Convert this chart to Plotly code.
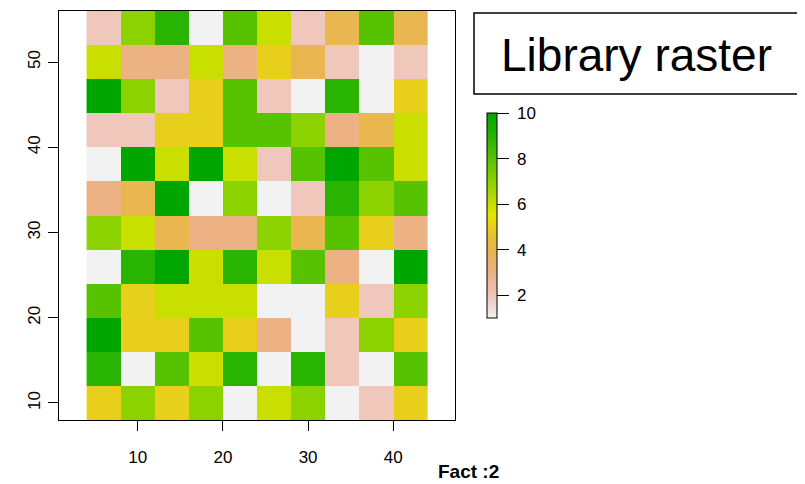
import colorsys
import plotly.graph_objects as go

# column / row centres (map units)
x_centers = [6, 10, 14, 18, 22, 26, 30, 34, 38, 42]
y_centers = [54, 50, 46, 42, 38, 34, 30, 26, 22, 18, 14, 10]

# cell values, rows listed from top (y=54) to bottom (y=10)
row_54 = [2, 7, 9, 1, 8, 6, 2, 4, 8, 4]
row_50 = [6, 3, 3, 6, 3, 5, 4, 2, 1, 2]
row_46 = [10, 7, 2, 5, 8, 2, 1, 9, 1, 5]
row_42 = [2, 2, 5, 5, 8, 8, 7, 3, 4, 6]
row_38 = [1, 10, 6, 10, 6, 2, 8, 10, 8, 6]
row_34 = [3, 4, 10, 1, 7, 1, 2, 9, 7, 8]
row_30 = [7, 6, 4, 3, 3, 7, 4, 8, 5, 3]
row_26 = [1, 9, 10, 6, 9, 6, 8, 3, 1, 10]
row_22 = [8, 5, 6, 6, 6, 1, 1, 5, 2, 7]
row_18 = [10, 5, 5, 8, 5, 3, 1, 2, 7, 5]
row_14 = [9, 1, 8, 6, 9, 1, 9, 2, 1, 8]
row_10 = [5, 7, 5, 7, 1, 6, 7, 1, 2, 5]

z = [row_54, row_50, row_46, row_42, row_38, row_34,
     row_30, row_26, row_22, row_18, row_14, row_10]

legend_ticks = [2, 4, 6, 8, 10]
x_ticks = [10, 20, 30, 40]
y_ticks = [10, 20, 30, 40, 50]


# reversed "terrain" palette (255 steps) as a colour scale
def terrain(n=255):
    k = n // 2
    cols = []

    def lin(a, b, m):
        return [a + (b - a) * i / (m - 1) for i in range(m)]

    h1, s1, v1 = lin(4 / 12, 2 / 12, k), [1.0] * k, lin(0.65, 0.9, k)
    m = n - k + 1
    h2, s2, v2 = lin(2 / 12, 0, m)[1:], lin(1, 0, m)[1:], lin(0.9, 0.95, m)[1:]
    for h, s, v in list(zip(h1, s1, v1)) + list(zip(h2, s2, v2)):
        r, g, b = colorsys.hsv_to_rgb(h, s, v)
        cols.append("#%02X%02X%02X" % (round(r * 255), round(g * 255), round(b * 255)))
    return cols


pal = terrain(255)[::-1]
colorscale = [[i / (len(pal) - 1), c] for i, c in enumerate(pal)]

FONT = "Liberation Sans, Arial, sans-serif"
OFF = 8  # page body margin
W, H = 805 - OFF, 484 - OFF
L, R, T, B = 59 - OFF, 455 - OFF, 11 - OFF, 420 - OFF
pw, ph = R - L, B - T


def px_x(p):
    return (p - OFF - L) / pw


def px_y(p):
    return (B - (p - OFF)) / ph


NB = "\u00a0"

fig = go.Figure(go.Heatmap(
    x=x_centers, y=y_centers, z=z,
    colorscale=colorscale, zmin=1, zmax=10,
    xgap=0, ygap=0,
    colorbar=dict(
        x=px_x(487), xanchor="left", xpad=0,
        y=px_y(215.5), yanchor="middle", ypad=0,
        len=205, lenmode="pixels", thickness=10, thicknessmode="pixels",
        outlinecolor="black", outlinewidth=1,
        tickvals=legend_ticks, ticktext=[NB + str(t) for t in legend_ticks],
        ticks="outside", ticklen=12, tickcolor="black",
        tickfont=dict(family=FONT, size=17, color="black"),
    ),
))

axis_common = dict(
    showgrid=False, zeroline=False, showline=True, linecolor="black",
    linewidth=1.3, mirror=True, ticks="outside", ticklen=10, tickcolor="black",
    tickwidth=1, tickfont=dict(family=FONT, size=17, color="black"),
)

fig.update_layout(
    width=W, height=H,
    margin=dict(l=L, r=W - R, t=T, b=H - B, autoexpand=False),
    paper_bgcolor="white", plot_bgcolor="white",
    xaxis=dict(range=[0.76, 47.24], tickvals=x_ticks, ticklabelstandoff=11, **axis_common),
    yaxis=dict(range=[8, 56], tickvals=y_ticks, tickangle=-90, ticklabelstandoff=1, **axis_common),
    shapes=[dict(type="rect", xref="paper", yref="paper",
                 x0=px_x(474), x1=px_x(798), y0=px_y(94), y1=px_y(13),
                 line=dict(color="black", width=1.5), fillcolor="white")],
    annotations=[
        dict(text="Library raster", xref="paper", yref="paper",
             x=px_x(636), y=px_y(55), xanchor="center", yanchor="middle",
             showarrow=False, font=dict(family=FONT, size=46, color="black")),
        dict(text="<b>Fact :2</b>", xref="paper", yref="paper",
             x=px_x(469), y=px_y(472), xanchor="center", yanchor="middle",
             showarrow=False, font=dict(family=FONT, size=19, color="black")),
    ],
)

fig.write_html("out.html")
